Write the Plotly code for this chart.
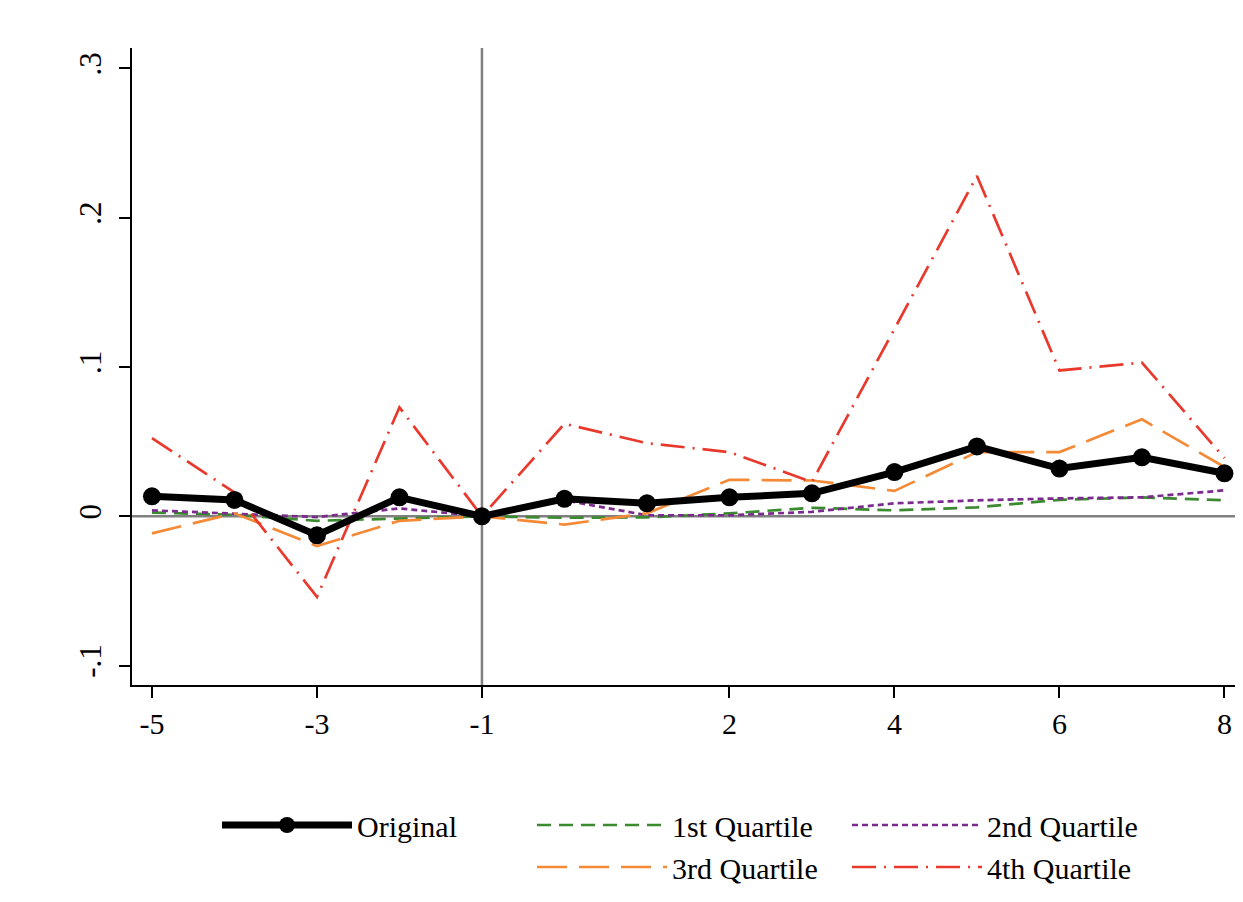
import plotly.graph_objects as go

periods = [-5, -4, -3, -2, -1, 0, 1, 2, 3, 4, 5, 6, 7, 8]
original = [0.0134, 0.011, -0.0127, 0.0127, 0.0, 0.0117, 0.0087, 0.0127, 0.0154, 0.0296, 0.0468, 0.032, 0.0395, 0.0288]
q1 = [0.0025, 0.001, -0.003, -0.0015, 0.0, -0.001, -0.0007, 0.002, 0.0057, 0.004, 0.006, 0.011, 0.0127, 0.0107]
q2 = [0.004, 0.002, -0.0005, 0.0053, 0.0, 0.0107, 0.0007, 0.0007, 0.003, 0.0087, 0.0107, 0.012, 0.0127, 0.0174]
q3 = [-0.0114, 0.002, -0.020, -0.003, 0.0, -0.0055, 0.002, 0.0245, 0.024, 0.017, 0.043, 0.043, 0.065, 0.033]
q4 = [0.0524, 0.016, -0.054, 0.073, 0.0, 0.062, 0.049, 0.043, 0.023, 0.126, 0.228, 0.0977, 0.103, 0.039]

x_ticks = [-5, -3, -1, 2, 4, 6, 8]
y_ticks = [-0.1, 0, 0.1, 0.2, 0.3]
y_ticktext = ["-.1", "0", ".1", ".2", ".3"]

FONT = "Liberation Serif, Times New Roman, serif"

fig = go.Figure()

fig.add_trace(go.Scatter(x=periods, y=q1, mode="lines", name="1st Quartile",
                         line=dict(color="#3b8a2f", width=2.7, dash="14px,8px")))
fig.add_trace(go.Scatter(x=periods, y=q2, mode="lines", name="2nd Quartile",
                         line=dict(color="#7b2b8e", width=2.7, dash="6px,4px")))
fig.add_trace(go.Scatter(x=periods, y=q3, mode="lines", name="3rd Quartile",
                         line=dict(color="#f58a36", width=2.7, dash="30px,12px")))
fig.add_trace(go.Scatter(x=periods, y=q4, mode="lines", name="4th Quartile",
                         line=dict(color="#e8392c", width=2.7, dash="24px,8px,2px,8px")))
fig.add_trace(go.Scatter(x=periods, y=original, mode="lines+markers", name="Original",
                         line=dict(color="black", width=7),
                         marker=dict(color="black", size=18)))
# invisible placeholder to leave the empty legend slot under "Original"
fig.add_trace(go.Scatter(x=[None], y=[None], mode="lines", name=" ",
                         line=dict(color="rgba(0,0,0,0)", width=1), hoverinfo="skip"))

order = {"Original": 1, "1st Quartile": 2, "2nd Quartile": 3, " ": 4, "3rd Quartile": 5, "4th Quartile": 6}
for tr in fig.data:
    tr.legendrank = order[tr.name]

fig.add_vline(x=-1, line=dict(color="#808080", width=2.5), layer="below")
fig.add_hline(y=0, line=dict(color="#808080", width=2.5), layer="below")

fig.update_layout(
    width=1235, height=894,
    margin=dict(l=124, r=0, t=40, b=217),
    paper_bgcolor="white", plot_bgcolor="white",
    font=dict(family=FONT, size=30, color="black"),
    showlegend=True,
    legend=dict(orientation="h", x=0.0765, xanchor="left", y=-0.179, yanchor="top",
                entrywidth=170, entrywidthmode="pixels", itemwidth=130,
                font=dict(family=FONT, size=30), tracegroupgap=0,
                traceorder="normal"),
    xaxis=dict(range=[-5.242, 8.225], tickmode="array", tickvals=x_ticks,
               ticktext=[str(v) for v in x_ticks], automargin=False,
               showgrid=False, zeroline=False, showline=True, linecolor="black", linewidth=1.5,
               ticks="outside", ticklen=11, tickwidth=1.5, tickcolor="black",
               tickfont=dict(family=FONT, size=30)),
    yaxis=dict(range=[-0.113, 0.3137], tickmode="array", tickvals=y_ticks, ticktext=y_ticktext,
               automargin=False, ticklabelstandoff=6,
               showgrid=False, zeroline=False, showline=True, linecolor="black", linewidth=1.5,
               ticks="outside", ticklen=11, tickwidth=1.5, tickcolor="black", tickangle=-90,
               tickfont=dict(family=FONT, size=31)),
)

fig.write_html("out.html")
